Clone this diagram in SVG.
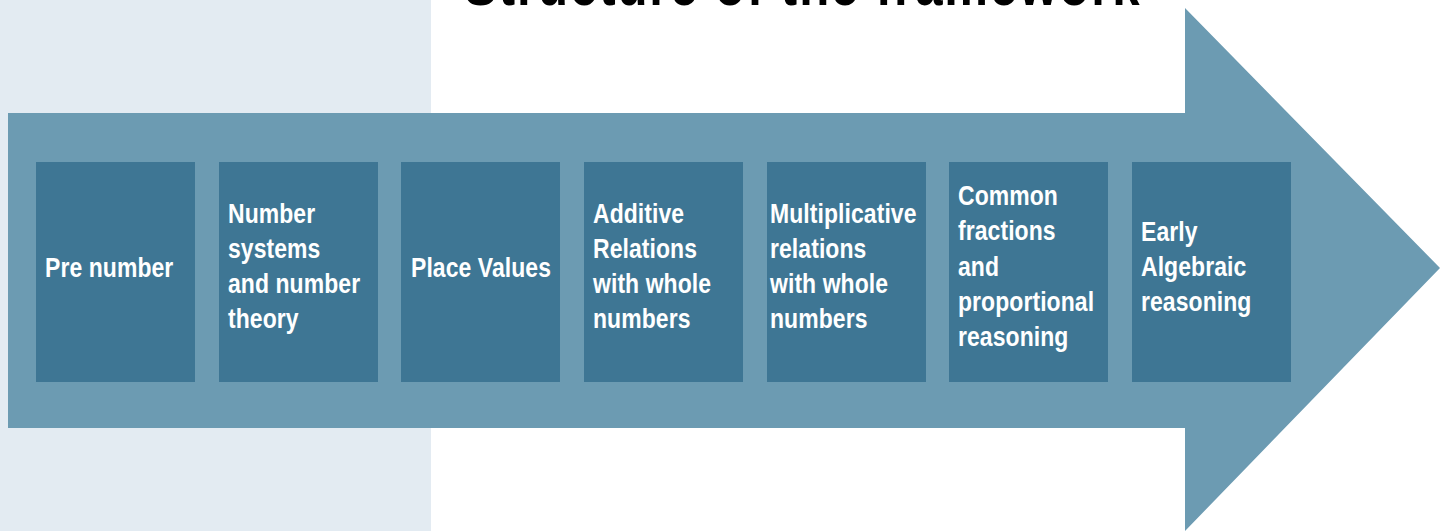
<svg xmlns="http://www.w3.org/2000/svg" width="1448" height="531" viewBox="0 0 1448 531">
  <style>
    .panel { fill: #e3ebf2; }
    .arrow { fill: #6c9bb2; }
    .box { fill: #3e7694; }
    /* condensed look: Arial-width bold squeezed horizontally by the wrapping group */
    .label { font-family: "Liberation Sans", Arial, sans-serif; font-weight: bold; font-size: 28px; fill: #ffffff; letter-spacing: 0.1px; }
    .title { font-family: "Liberation Sans", Arial, sans-serif; font-weight: bold; font-size: 60px; fill: #000000; }
  </style>

  <!-- background panel on the left -->
  <rect class="panel" x="0" y="0" width="431" height="531"/>

  <!-- heading, cropped at the top edge -->
  <g transform="translate(464 0) scale(0.82 1)">
    <text class="title" x="0" y="5" textLength="824" lengthAdjust="spacing">Structure of the framework</text>
  </g>

  <!-- big progression arrow -->
  <g id="connectors">
    <polygon class="arrow" points="8,113 1185,113 1185,8 1440,268 1185,531 1185,428 8,428"/>
  </g>

  <g id="node-pre-number">
    <rect class="box" x="36" y="162" width="159" height="220"/>
    <g transform="translate(45 0) scale(0.82 1)">
      <text class="label" x="0" y="277">Pre number</text>
    </g>
  </g>

  <g id="node-number-systems">
    <rect class="box" x="219" y="162" width="159" height="220"/>
    <g transform="translate(228 0) scale(0.82 1)">
      <text class="label" x="0" y="223">Number</text>
      <text class="label" x="0" y="258">systems</text>
      <text class="label" x="0" y="293">and number</text>
      <text class="label" x="0" y="328">theory</text>
    </g>
  </g>

  <g id="node-place-values">
    <rect class="box" x="401" y="162" width="159" height="220"/>
    <g transform="translate(411 0) scale(0.82 1)">
      <text class="label" x="0" y="277">Place Values</text>
    </g>
  </g>

  <g id="node-additive">
    <rect class="box" x="584" y="162" width="159" height="220"/>
    <g transform="translate(593 0) scale(0.82 1)">
      <text class="label" x="0" y="223">Additive</text>
      <text class="label" x="0" y="258">Relations</text>
      <text class="label" x="0" y="293">with whole</text>
      <text class="label" x="0" y="328">numbers</text>
    </g>
  </g>

  <g id="node-multiplicative">
    <rect class="box" x="767" y="162" width="159" height="220"/>
    <g transform="translate(770 0) scale(0.82 1)">
      <text class="label" x="0" y="223">Multiplicative</text>
      <text class="label" x="0" y="258">relations</text>
      <text class="label" x="0" y="293">with whole</text>
      <text class="label" x="0" y="328">numbers</text>
    </g>
  </g>

  <g id="node-fractions">
    <rect class="box" x="949" y="162" width="159" height="220"/>
    <g transform="translate(958 0) scale(0.82 1)">
      <text class="label" x="0" y="205">Common</text>
      <text class="label" x="0" y="240">fractions</text>
      <text class="label" x="0" y="276">and</text>
      <text class="label" x="0" y="311">proportional</text>
      <text class="label" x="0" y="346">reasoning</text>
    </g>
  </g>

  <g id="node-algebraic">
    <rect class="box" x="1132" y="162" width="159" height="220"/>
    <g transform="translate(1141 0) scale(0.82 1)">
      <text class="label" x="0" y="241">Early</text>
      <text class="label" x="0" y="276">Algebraic</text>
      <text class="label" x="0" y="311">reasoning</text>
    </g>
  </g>
</svg>
